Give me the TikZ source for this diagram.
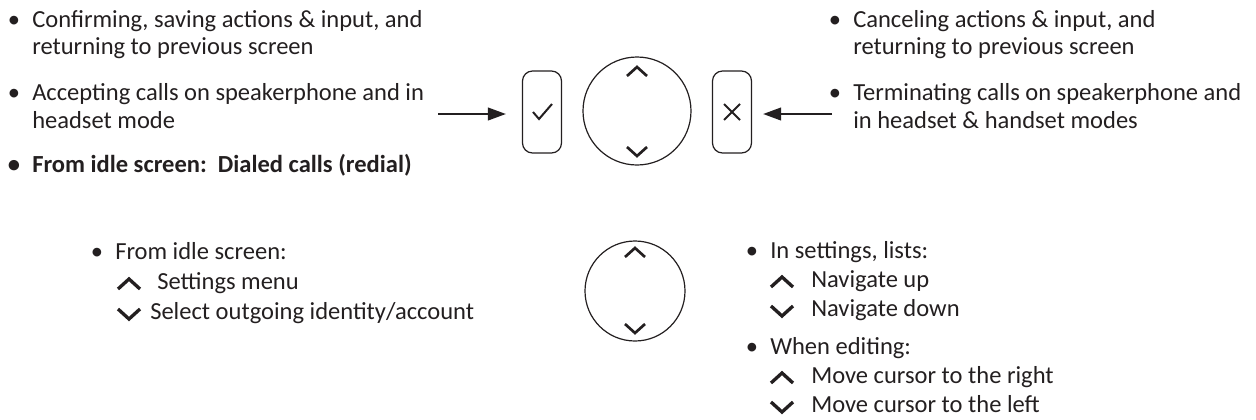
\documentclass[tikz,border=0pt]{standalone}
\usepackage{fontspec}
\setmainfont{Carlito}
\usetikzlibrary{arrows.meta}

\definecolor{ink}{HTML}{231F20}

\tikzset{
	txt/.style={anchor=base west, inner sep=0pt, text=ink, font=\fontsize{18.4}{22}\selectfont},
	bul/.style={txt, anchor=base},
	key/.style={draw=ink, line width=0.9pt, rounded corners=7.5pt, minimum width=29.25pt, minimum height=61.5pt, inner sep=0pt},
	wheel/.style={draw=ink, line width=0.9pt, circle, inner sep=0pt},
	chev/.style={draw=ink, line width=2pt, line join=miter},
	bigchev/.style={draw=ink, line width=2.5pt, line join=miter},
	glyph/.style={draw=ink, line width=1.5pt},
	pointer/.style={draw=ink, line width=1.5pt, -{Triangle[length=13.5pt, width=9.5pt]}},
	pics/chevup/.style={code={\draw[chev] (-10,4) -- (0,-5) -- (10,4);}},
	pics/chevdown/.style={code={\draw[chev] (-10,-4) -- (0,5) -- (10,-4);}},
	pics/listup/.style={code={\draw[bigchev] (-11,5) -- (0,-5) -- (11,5);}},
	pics/listdown/.style={code={\draw[bigchev] (-11,-5) -- (0,5) -- (11,-5);}},
	pics/tick/.style={code={\draw[glyph] (-9,0) -- (-3,7) -- (10,-8);}},
	pics/cross/.style={code={\draw[glyph] (-8,-8) -- (8,8) (-8,8) -- (8,-8);}}
}

\begin{document}
\begin{tikzpicture}[x=0.75pt, y=-0.75pt]
	\useasboundingbox (0,0) rectangle (1256,419);

	% keys of the top row
	\node[key] (ok) at (542,112) {};
	\node[wheel, minimum size=81pt] (nav) at (637,111) {};
	\node[key] (cancel) at (732,112) {};
	\pic at (ok) {tick};
	\pic at (cancel) {cross};
	\pic at (637,72) {chevup};
	\pic at (637,151) {chevdown};

	% navigation wheel alone
	\node[wheel, minimum size=75pt] (wheel) at (635,291) {};
	\pic at (635,253) {chevup};
	\pic at (635,328) {chevdown};

	% pointers
	\coordinate (from_l) at (438,114);
	\coordinate (from_r) at (832,114);
	\draw[pointer, shorten >=12pt] (from_l) -- (from_l -| ok.west);
	\draw[pointer, shorten >=8.25pt] (from_r) -- (from_r -| cancel.east);

	% left column
	\node[bul] (b_0) at (14,27) {•};
	\node[txt] (l_0) at (32,27) {Confirming, saving actions \& input, and};
	\node[txt] (l_1) at (32,54) {returning to previous screen};
	\node[bul] (b_1) at (14,100) {•};
	\node[txt] (l_2) at (32,100) {Accepting calls on speakerphone and in};
	\node[txt] (l_3) at (32,128) {headset mode};
	\node[bul] (b_2) at (14,172) {\bfseries •};
	\node[txt, font=\fontsize{18.4}{22}\selectfont\bfseries] (l_4) at (32,172) {From idle screen:\ \ Dialed calls (redial)};

	% right column
	\node[bul] (b_3) at (835,27) {•};
	\node[txt] (r_0) at (853,27) {Canceling actions \& input, and};
	\node[txt] (r_1) at (853,54) {returning to previous screen};
	\node[bul] (b_4) at (835,100) {•};
	\node[txt] (r_2) at (853,100) {Terminating calls on speakerphone and};
	\node[txt] (r_3) at (853,128) {in headset \& handset modes};

	% idle screen
	\node[bul] (b_5) at (97,259) {•};
	\node[txt] (i_0) at (115,259) {From idle screen:};
	\pic at (129,284) {listup};
	\node[txt] (i_1) at (157,289) {Settings menu};
	\pic at (129,314) {listdown};
	\node[txt] (i_2) at (150,319) {Select outgoing identity/account};

	% settings and editing
	\node[bul] (b_6) at (752,258) {•};
	\node[txt] (s_0) at (770,258) {In settings, lists:};
	\pic at (782,282) {listup};
	\node[txt] (s_1) at (811,287) {Navigate up};
	\pic at (782,311) {listdown};
	\node[txt] (s_2) at (811,316) {Navigate down};
	\node[bul] (b_7) at (752,354) {•};
	\node[txt] (e_0) at (770,354) {When editing:};
	\pic at (782,378) {listup};
	\node[txt] (e_1) at (811,383) {Move cursor to the right};
	\pic at (782,407) {listdown};
	\node[txt] (e_2) at (811,412) {Move cursor to the left};

\end{tikzpicture}
\end{document}
